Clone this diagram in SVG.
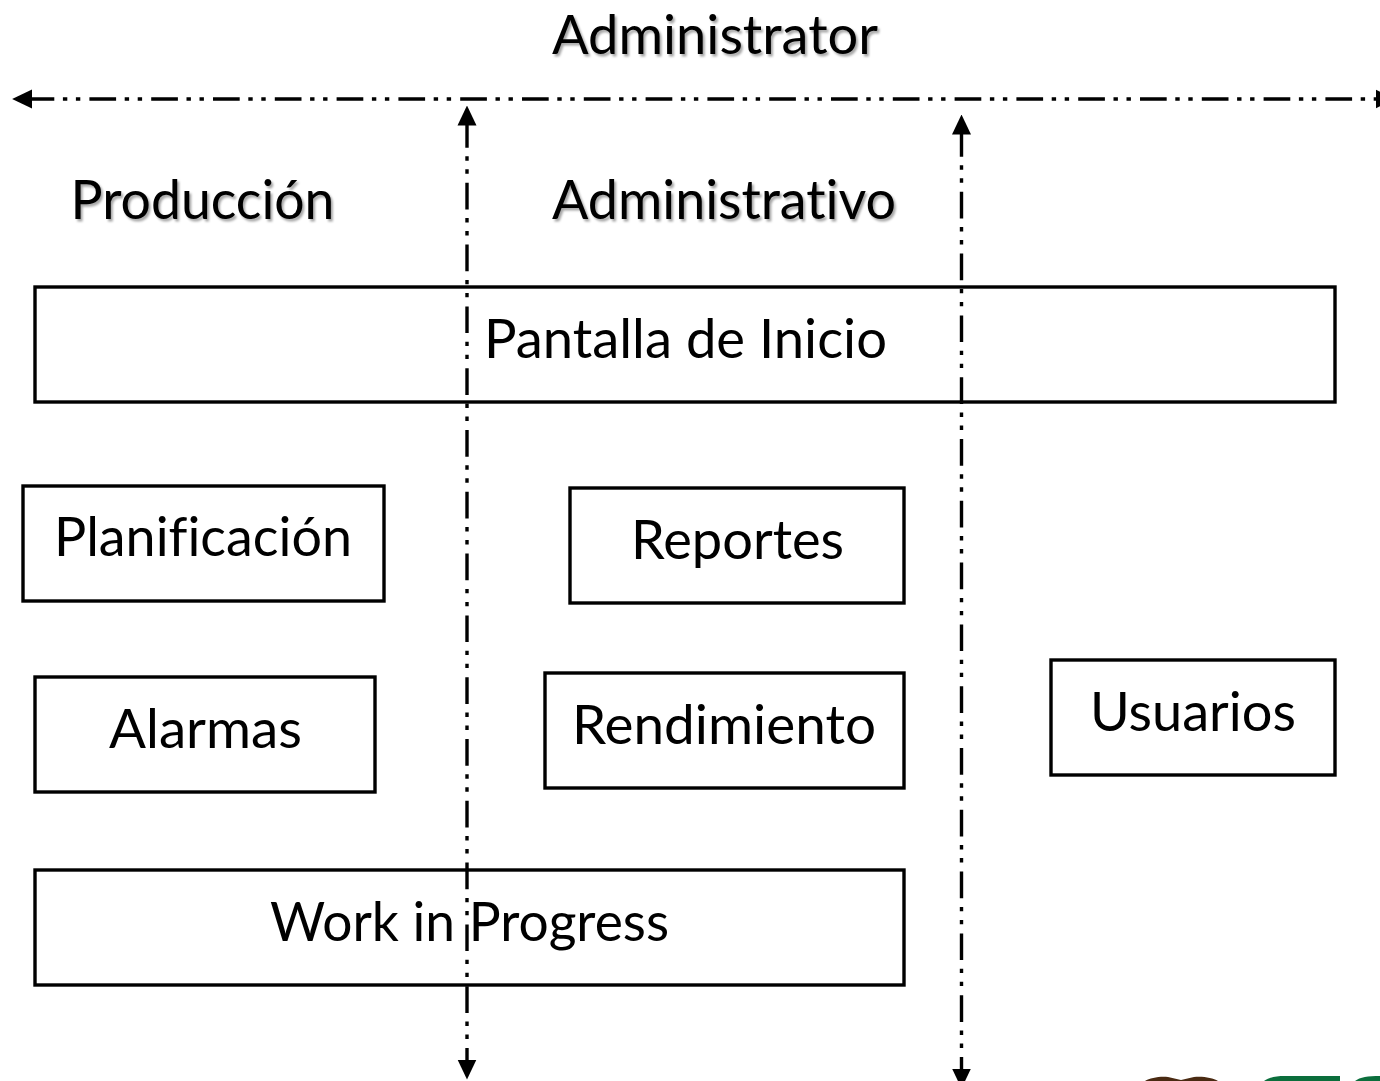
<svg xmlns="http://www.w3.org/2000/svg" width="1380" height="1081" viewBox="0 0 1380 1081">
<style>
.box{fill:none;stroke:#000;stroke-width:3.4}
.conn{fill:none;stroke:#000;stroke-width:3.4;stroke-dasharray:26.7 8.6 4.4 8.6 4.4 9.1;marker-start:url(#arrow);marker-end:url(#arrow)}
text{font-family:Lato,"Liberation Sans",sans-serif;font-size:54px;fill:#000;font-variant-ligatures:none}
.shadow{filter:url(#sh)}
</style>
<defs>
<marker id="arrow" markerUnits="userSpaceOnUse" markerWidth="20" markerHeight="20" refX="4.5" refY="10" orient="auto-start-reverse" viewBox="0 0 20 20">
<path d="M0 0.5L20 10L0 19.5Z" fill="#000"/>
</marker>
<filter id="sh" x="-5%" y="-10%" width="110%" height="125%">
<feDropShadow dx="2" dy="2.5" stdDeviation="1.2" flood-color="#000" flood-opacity="0.35"/>
</filter>
</defs>
<rect width="1380" height="1081" fill="#fff"/>
<text id="title" class="shadow" x="552" y="54" textLength="326" lengthAdjust="spacingAndGlyphs">Administrator</text>
<text id="produccion" class="shadow" x="70.5" y="219" textLength="264" lengthAdjust="spacingAndGlyphs">Producción</text>
<text id="administrativo" class="shadow" x="552" y="219" textLength="344" lengthAdjust="spacingAndGlyphs">Administrativo</text>
<g id="pantalla"><rect class="box" x="35" y="287" width="1300" height="115"/><text x="484" y="358" textLength="403" lengthAdjust="spacingAndGlyphs">Pantalla de Inicio</text></g>
<g id="planificacion"><rect class="box" x="23" y="486" width="361" height="115"/><text x="54" y="556" textLength="298" lengthAdjust="spacingAndGlyphs">Planificación</text></g>
<g id="reportes"><rect class="box" x="570" y="488" width="334" height="115"/><text x="631" y="559" textLength="213" lengthAdjust="spacingAndGlyphs">Reportes</text></g>
<g id="alarmas"><rect class="box" x="35" y="677" width="340" height="115"/><text x="109" y="748" textLength="193" lengthAdjust="spacingAndGlyphs">Alarmas</text></g>
<g id="rendimiento"><rect class="box" x="545" y="673" width="359" height="115"/><text x="572" y="744" textLength="304" lengthAdjust="spacingAndGlyphs">Rendimiento</text></g>
<g id="usuarios"><rect class="box" x="1051" y="660" width="284" height="115"/><text x="1090" y="731" textLength="206" lengthAdjust="spacingAndGlyphs">Usuarios</text></g>
<g id="work"><rect class="box" x="35" y="870" width="869" height="115"/><text x="270" y="941" textLength="399" lengthAdjust="spacingAndGlyphs">Work in Progress</text></g>
<g id="connectors">
<line class="conn" x1="27.6" y1="99" x2="1380" y2="99"/>
<line class="conn" x1="467" y1="121" x2="467" y2="1064"/>
<line class="conn" x1="961.5" y1="130" x2="961.5" y2="1073"/>
</g>
<path d="M1145 1081C1150 1078 1160 1076 1168 1077L1181 1080L1194 1077C1203 1076 1213 1078 1218 1081Z" fill="#4a2a12"/>
<path d="M1264 1081C1270 1077 1276 1076 1285 1076L1340 1076L1340 1081Z" fill="#0b6e3c"/>
<path d="M1355 1081C1360 1077 1368 1076 1380 1076L1380 1081Z" fill="#0b6e3c"/>
</svg>
